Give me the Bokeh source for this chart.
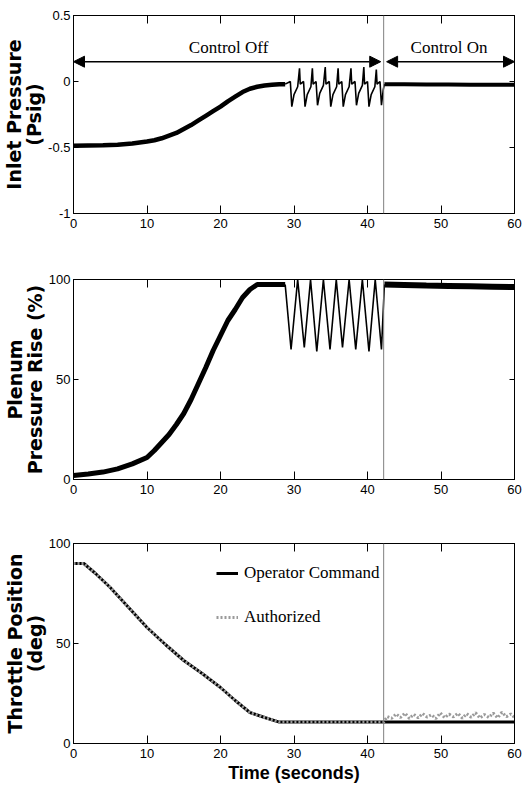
from bokeh.plotting import figure
from bokeh.models import (Range1d, LinearAxis, Span, Label, Arrow, NormalHead,
                          FixedTicker, Legend, LegendItem)
from bokeh.layouts import column
from bokeh.embed import file_html
from bokeh.resources import INLINE

# ---------------- data (time in seconds) ----------------
control_switch = 42.2          # control turned on
time_ticks = [0, 10, 20, 30, 40, 50, 60]

# Inlet pressure (psig)
ramp_t = [0, 2, 4, 6, 8, 10, 11, 12, 13, 14, 15, 16, 17, 18, 19, 20, 21, 22,
          23, 24, 25, 26, 27, 28, 28.8]
inlet_ramp = [-0.487, -0.485, -0.483, -0.48, -0.47, -0.455, -0.445, -0.43,
              -0.41, -0.39, -0.36, -0.33, -0.295, -0.26, -0.225, -0.19, -0.15,
              -0.115, -0.08, -0.055, -0.04, -0.03, -0.025, -0.02, -0.02]
inlet_surge_t = [28.8, 29.5, 29.7, 30.0, 30.5, 30.75, 30.85, 31.3,
                 31.5, 31.8, 32.3, 32.5, 32.6, 33.0,
                 33.2, 33.5, 34.0, 34.25, 34.35, 34.8,
                 35.0, 35.3, 35.8, 36.0, 36.1, 36.5,
                 36.7, 37.0, 37.5, 37.75, 37.85, 38.3,
                 38.5, 38.8, 39.3, 39.5, 39.6, 40.0,
                 40.2, 40.5, 41.0, 41.2, 41.3, 41.7,
                 41.9, 42.15, 42.3]
inlet_surge = [-0.02, 0.0, -0.19, -0.10, -0.04, 0.10, -0.02, 0.0,
               -0.19, -0.10, -0.04, 0.10, -0.02, 0.0,
               -0.18, -0.09, -0.03, 0.11, -0.02, 0.0,
               -0.19, -0.10, -0.04, 0.10, -0.02, 0.0,
               -0.19, -0.10, -0.04, 0.10, -0.02, 0.0,
               -0.18, -0.09, -0.03, 0.11, -0.02, 0.0,
               -0.19, -0.10, -0.04, 0.09, -0.02, 0.0,
               -0.18, -0.06, -0.02]
on_t = [42.3, 45, 48, 51, 54, 57, 60]
inlet_on = [-0.02, -0.02, -0.022, -0.022, -0.024, -0.025, -0.025]

# Plenum pressure rise (%)
plenum_ramp = [2, 2.8, 3.7, 5.3, 7.8, 11, 14.5, 18.5, 22.5, 27.5, 33, 40, 48,
               56, 64.5, 72, 79.5, 85, 91, 95, 97.5, 97.5, 97.5, 97.5, 97.5]
plenum_surge_t = [28.8, 29.6, 30.5, 31.4, 32.25, 33.1, 34.0, 34.9, 35.75,
                  36.6, 37.5, 38.4, 39.3, 40.2, 41.05, 41.9, 42.3]
plenum_surge = [97.5, 65, 100, 66, 100, 64, 100, 65, 100,
                66, 100, 65, 100, 64, 100, 65, 97.5]
plenum_on = [97.5, 97.3, 97.0, 96.8, 96.6, 96.4, 96.2]

# Throttle position (deg)
throttle_t = [0, 1.4, 3, 5, 7.5, 10, 12.5, 15, 17.5, 20, 22, 24, 26, 28, 30,
              35, 40, 42.2, 45, 50, 55, 60]
operator_cmd = [90, 90, 85, 78, 68, 58, 49.5, 41.5, 35, 28, 21.5, 15.5, 13,
                10.7, 10.7, 10.7, 10.7, 10.7, 10.7, 10.7, 10.7, 10.7]
authorized_on_t = [42.7, 43.3, 43.9, 44.5, 45.1, 45.7, 46.3, 46.9, 47.5, 48.1,
                   48.7, 49.3, 49.9, 50.5, 51.1, 51.7, 52.3, 52.9, 53.5, 54.1,
                   54.7, 55.3, 55.9, 56.5, 57.1, 57.7, 58.3, 58.9, 59.5, 60]
authorized_on = [13.5, 12.6, 14.8, 13.0, 15.2, 12.5, 14.6, 12.8, 15.0, 13.2,
                 14.4, 12.4, 15.3, 12.9, 14.7, 13.3, 15.1, 12.6, 14.9, 13.1,
                 15.4, 12.7, 14.5, 13.0, 15.2, 12.8, 15.6, 13.4, 14.8, 13.0]

# ---------------- styling ----------------
TICK_FONT = "Liberation Sans Narrow, Liberation Sans"
LABEL_FONT = "DejaVu Sans"
SERIF = "Liberation Serif"
W = 528


def panel(height, top, bottom, y0, y1, yticks, ylabel, overrides=None):
    p = figure(width=W, height=height, output_backend="svg",
               toolbar_location=None, x_range=Range1d(0, 60),
               y_range=Range1d(y0, y1), min_border_left=73,
               min_border_right=14, min_border_top=top,
               min_border_bottom=bottom)
    p.background_fill_color = "white"
    p.border_fill_color = "white"
    p.outline_line_color = "black"
    p.outline_line_alpha = 1
    p.grid.visible = False

    xa, ya = p.below[0], p.left[0]
    xa.ticker = FixedTicker(ticks=time_ticks)
    ya.ticker = FixedTicker(ticks=yticks)
    if overrides:
        ya.major_label_overrides = overrides
    for ax, tin in ((xa, 8), (ya, 5)):
        ax.major_tick_in = tin
        ax.major_tick_out = 0
        ax.minor_tick_line_color = None
        ax.axis_line_color = "black"
        ax.major_tick_line_color = "black"
        ax.major_label_text_font = TICK_FONT
        ax.major_label_text_font_size = "13px"
        ax.major_label_text_color = "black"
    xa.major_label_standoff = 5
    ya.major_label_standoff = 3
    ya.axis_label = ylabel
    ya.axis_label_text_font = LABEL_FONT
    ya.axis_label_text_font_style = "bold"
    ya.axis_label_text_font_size = "19px"
    ya.axis_label_text_line_height = 0.9
    ya.axis_label_text_color = "black"
    ya.axis_label_standoff = 0

    # box ticks on the opposite edges (no labels)
    for loc, tick, tin in (("above", time_ticks, 8), ("right", yticks, 5)):
        ax = LinearAxis(ticker=FixedTicker(ticks=tick), major_tick_in=tin,
                        major_tick_out=0, minor_tick_line_color=None,
                        major_label_text_font_size="1px",
                        major_label_text_color=None,
                        major_label_standoff=0, axis_line_color="black")
        p.add_layout(ax, loc)

    p.add_layout(Span(location=control_switch, dimension="height",
                      line_color="#808080", line_width=1))
    return p, xa


# ---- Inlet pressure ----
p1, _ = panel(260, 15, 47, -1, 0.5, [-1, -0.5, 0, 0.5],
              "Inlet Pressure\n(Psig)",
              {-1: "-1", -0.5: "-0.5", 0: "0", 0.5: "0.5"})
p1.line(ramp_t, inlet_ramp, line_color="black", line_width=4.5)
p1.line(inlet_surge_t, inlet_surge, line_color="black", line_width=1.6)
p1.line(on_t, inlet_on, line_color="black", line_width=4)

arrow_y = 0.15
gap = 0.4
for x0, x1 in ((0, control_switch - gap), (control_switch + gap, 60)):
    p1.add_layout(Arrow(x_start=x0, x_end=x1, y_start=arrow_y, y_end=arrow_y,
                        line_color="black", line_width=1.5,
                        start=NormalHead(size=11, fill_color="black",
                                         line_color="black"),
                        end=NormalHead(size=11, fill_color="black",
                                       line_color="black")))
for text, x in (("Control Off", control_switch / 2),
                ("Control On", (control_switch + 60) / 2)):
    p1.add_layout(Label(x=x, y=0.26, text=text, text_align="center",
                        text_baseline="middle", text_font=SERIF,
                        text_font_size="17px", text_color="black"))

# ---- Plenum pressure rise ----
p2, _ = panel(260, 19, 41, 0, 100, [0, 50, 100], "Plenum\nPressure Rise (%)")
p2.line(ramp_t, plenum_ramp, line_color="black", line_width=5)
p2.line(plenum_surge_t, plenum_surge, line_color="black", line_width=1.6)
p2.line(on_t, plenum_on, line_color="black", line_width=6)

# ---- Throttle position ----
p3, xa = panel(284, 23, 61, 0, 100, [0, 50, 100], "Throttle Position\n(deg)")
xa.axis_label = "Time (seconds)"
xa.axis_label_text_font = TICK_FONT
xa.axis_label_text_font_style = "bold"
xa.axis_label_text_font_size = "18px"
xa.axis_label_text_color = "black"
xa.axis_label_standoff = 2

auth_t = throttle_t[:18] + authorized_on_t
auth_v = operator_cmd[:18] + authorized_on
cmd = p3.line(throttle_t, operator_cmd, line_color="black", line_width=3)
auth = p3.line(auth_t, auth_v, line_color="#9a9a9a", line_width=3,
               line_dash="2 2")

legend = Legend(items=[LegendItem(label="Operator Command", renderers=[cmd]),
                       LegendItem(label="Authorized", renderers=[auth])],
                location=(143, 116), padding=0, margin=0, spacing=24,
                glyph_width=22, glyph_height=20, label_height=20,
                label_standoff=6, border_line_color=None,
                background_fill_alpha=0, label_text_font=SERIF,
                label_text_font_size="17px", label_text_color="black")
p3.add_layout(legend)

layout = column(p1, p2, p3, spacing=0)
open("out.html", "w").write(file_html(layout, INLINE))
